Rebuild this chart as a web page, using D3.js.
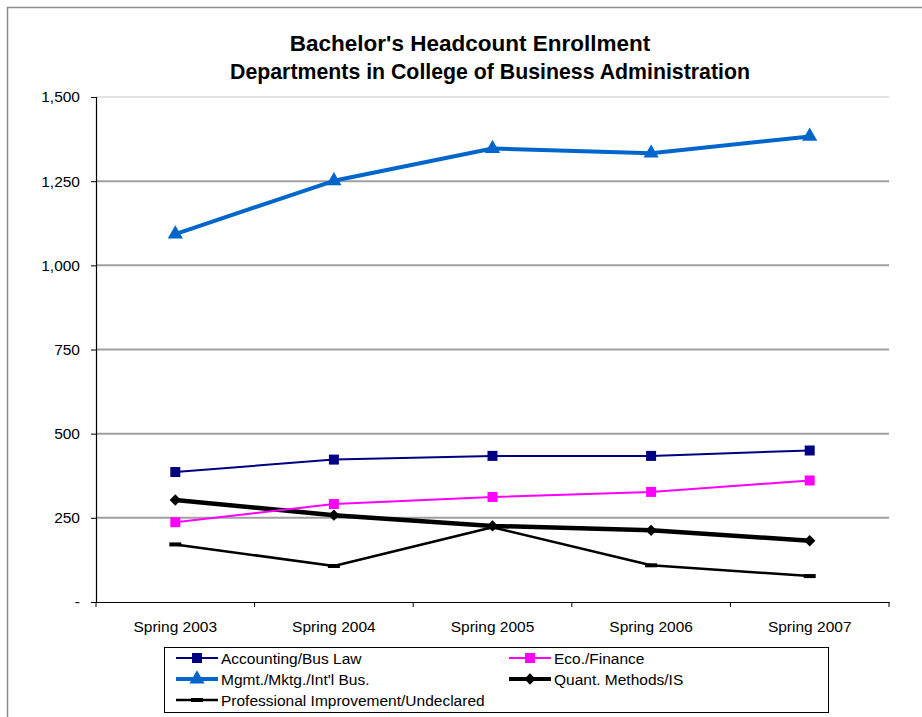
<!DOCTYPE html>
<html>
<head>
<meta charset="utf-8">
<script src="https://cdn.jsdelivr.net/npm/d3@7"></script>
<style>
  body { margin: 0; background: #fff; }
  text { font-family: "Liberation Sans", Arial, sans-serif; }
</style>
</head>
<body>
<div id="chart"></div>
<script>
// chart values
const terms = ['Spring 2003', 'Spring 2004', 'Spring 2005', 'Spring 2006', 'Spring 2007'];
const accounting = [386, 423, 434, 434, 450];
const ecoFinance = [237, 291, 312, 327, 361];
const mgmt = [1093, 1251, 1347, 1333, 1383];
const quant = [303, 258, 226, 213, 182];
const profImprovement = [171, 107, 222, 109, 77];
const yTicks = [0, 250, 500, 750, 1000, 1250, 1500];

const series = [
  { name: 'Accounting/Bus Law', values: accounting, color: '#000080', width: 2, marker: 'square' },
  { name: 'Eco./Finance', values: ecoFinance, color: '#ff00ff', width: 2, marker: 'square' },
  { name: "Mgmt./Mktg./Int'l Bus.", values: mgmt, color: '#0066cc', width: 4, marker: 'triangle' },
  { name: 'Quant. Methods/IS', values: quant, color: '#000000', width: 4.5, marker: 'diamond' },
  { name: 'Professional Improvement/Undeclared', values: profImprovement, color: '#000000', width: 2.5, marker: 'dash' }
];

const W = 922, H = 717;
let margin = { top: 97, right: 33, bottom: 115, left: 96 },
  width = W - margin.left - margin.right,
  height = H - margin.top - margin.bottom;

let svg = d3.select('#chart').append('svg')
  .attr('width', W)
  .attr('height', H);

// outer chart frame
svg.append('rect')
  .attr('x', 7.5).attr('y', 7.5)
  .attr('width', W + 20).attr('height', H + 20)
  .attr('fill', 'none')
  .attr('stroke', '#8c8c8c')
  .attr('stroke-width', 1.5);

svg.append('text')
  .attr('x', 470).attr('y', 51)
  .attr('text-anchor', 'middle')
  .style('font-size', '22.5px').style('font-weight', 'bold')
  .text("Bachelor's Headcount Enrollment");
svg.append('text')
  .attr('x', 490).attr('y', 79)
  .attr('text-anchor', 'middle')
  .style('font-size', '21.3px').style('font-weight', 'bold')
  .text('Departments in College of Business Administration');

let g = svg.append('g')
  .attr('transform', 'translate(' + margin.left + ',' + margin.top + ')');

let x = d3.scaleBand().domain(terms).range([0, width]).padding(0);
let y = d3.scaleLinear().domain([0, 1500]).range([height, 0]);
const cx = d => x(d) + x.bandwidth() / 2;

// gridlines
g.selectAll('.grid')
  .data(yTicks.filter(t => t > 0))
  .enter().append('line')
  .attr('x1', 0).attr('x2', width)
  .attr('y1', d => y(d)).attr('y2', d => y(d))
  .attr('stroke', d => d === 1500 ? '#e2e2e2' : '#a0a0a0')
  .attr('stroke-width', 2);

// y axis
let yAxis = g.append('g')
  .call(d3.axisLeft(y).tickValues(yTicks).tickSize(5).tickPadding(11)
    .tickFormat(d => d === 0 ? '-' : d3.format(',')(d)));
yAxis.select('.domain').attr('stroke', '#000').attr('stroke-width', 1.2);
yAxis.selectAll('.tick line').attr('stroke', '#000');
yAxis.selectAll('text').style('font-size', '15.5px').attr('fill', '#000')
  .attr('font-family', null);

// x axis: labels at centres, ticks at band edges
let xAxis = g.append('g')
  .attr('transform', 'translate(0,' + height + ')')
  .call(d3.axisBottom(x).tickSize(0).tickPadding(19));
xAxis.select('.domain').attr('stroke', '#000').attr('stroke-width', 1.2);
xAxis.selectAll('text').style('font-size', '15.5px').attr('fill', '#000')
  .attr('font-family', null);
xAxis.selectAll('.edge')
  .data(terms.map(t => x(t)).concat([width]))
  .enter().append('line')
  .attr('x1', d => d).attr('x2', d => d)
  .attr('y1', 0).attr('y2', 5)
  .attr('stroke', '#000');

const symbolFor = {
  square: d3.symbol().type(d3.symbolSquare).size(100),
  triangle: d3.symbol().type(d3.symbolTriangle).size(100),
  diamond: d3.symbol().type(d3.symbolSquare).size(64)
};

function drawMarker(sel, s) {
  if (s.marker === 'dash') {
    sel.append('rect')
      .attr('x', -6).attr('y', -2).attr('width', 12).attr('height', 4)
      .attr('fill', s.color);
  } else {
    sel.append('path')
      .attr('d', symbolFor[s.marker]())
      .attr('transform', s.marker === 'diamond' ? 'rotate(45)' : null)
      .attr('fill', s.color);
  }
}

let line = d3.line()
  .x((d, i) => cx(terms[i]))
  .y(d => y(d));

series.slice().reverse().forEach(function(s) {
  g.append('path')
    .datum(s.values)
    .attr('d', line)
    .attr('fill', 'none')
    .attr('stroke', s.color)
    .attr('stroke-width', s.width)
    .attr('stroke-linejoin', 'round');
  s.values.forEach(function(v, i) {
    let m = g.append('g')
      .attr('transform', 'translate(' + cx(terms[i]) + ',' + y(v) + ')');
    drawMarker(m, s);
  });
});

// legend
let legend = svg.append('g');
legend.append('rect')
  .attr('x', 164.5).attr('y', 647.5)
  .attr('width', 664).attr('height', 65)
  .attr('fill', '#fff').attr('stroke', '#000').attr('stroke-width', 1);

const legendPos = [[176, 658], [509, 658], [176, 679], [509, 679], [176, 700]];
series.forEach(function(s, i) {
  let item = legend.append('g')
    .attr('transform', 'translate(' + legendPos[i][0] + ',' + legendPos[i][1] + ')');
  item.append('line')
    .attr('x1', 0).attr('x2', 42)
    .attr('stroke', s.color)
    .attr('stroke-width', Math.min(s.width, 4));
  let m = item.append('g').attr('transform', 'translate(21,0)');
  drawMarker(m, s);
  item.append('text')
    .attr('x', 45).attr('y', 5.5)
    .style('font-size', '15.5px')
    .text(s.name);
});
</script>
</body>
</html>
